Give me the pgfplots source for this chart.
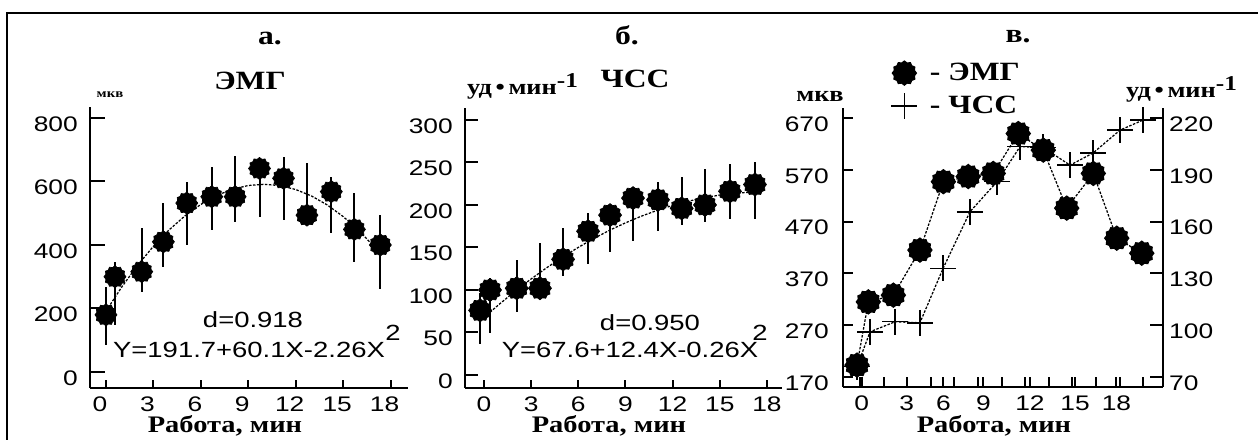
\documentclass[border=0pt]{standalone}
\usepackage{pgfplots}
\pgfplotsset{compat=1.18}
\usepackage{fontspec}
\setmainfont{Liberation Serif}[FakeStretch=1.2]
\newfontfamily\sansf{Liberation Sans}[FakeStretch=1.25]

% jagged filled circle, like the markers of the scan
\newcommand\jp[2]{\pgfpathlineto{\pgfpointpolar{#1}{#2\pgfplotmarksize}}}
\pgfdeclareplotmark{jag}{%
  \pgfpathmoveto{\pgfpointpolar{0}{\pgfplotmarksize}}%
  \jp{15}{.86}\jp{30}{1}\jp{45}{.86}\jp{60}{1}\jp{75}{.86}\jp{90}{1}%
  \jp{105}{.86}\jp{120}{1}\jp{135}{.86}\jp{150}{1}\jp{165}{.86}\jp{180}{1}%
  \jp{195}{.86}\jp{210}{1}\jp{225}{.86}\jp{240}{1}\jp{255}{.86}\jp{270}{1}%
  \jp{285}{.86}\jp{300}{1}\jp{315}{.86}\jp{330}{1}\jp{345}{.86}%
  \pgfpathclose\pgfusepathqfillstroke}

\pgfplotsset{
  panel/.style={
    scale only axis, clip=false, anchor=south west,
    axis x line*=bottom, axis y line*=left,
    axis line style={line width=0.45mm},
    tick align=inside,
    major tick length=3mm,
    every tick/.style={line width=0.4mm, black},
    xtick style={/pgfplots/major tick length=1.6mm},
    ticklabel style={font=\sansf\fontsize{12}{12}\selectfont},
    xticklabel style={yshift=-0.5mm},
    yticklabel style={yshift=-1.2mm, xshift=-1.2mm},
    /pgf/number format/assume math mode=true,
  },
  pts/.style={only marks, mark=jag, mark size=2.2mm,
    mark options={fill=black, draw=black},
    error bars/y dir=both, error bars/y explicit, error bars/error mark=none,
    error bars/error bar style={line width=0.4mm, black}},
  fit/.style={black, line width=0.25mm, dash pattern=on 0.5mm off 0.3mm},
}

\begin{document}
\begin{tikzpicture}[x=0.2mm, y=0.2mm]
\useasboundingbox (0,0) rectangle (1258,439);
\draw[line width=0.3mm] (7,-50) -- (7,426) -- (1300,426);

% ---------- а. ЭМГ ----------
\begin{axis}[panel, at={(18mm,10.2mm)},
  width=63.6mm, height=56.2mm,
  xmin=-1.01, xmax=19.1, ymin=-50.4, ymax=834.6,
  xtick={0,3,...,18}, ytick={0,200,...,800},
  xticklabel style={xshift=-1.2mm}]
\addplot[fit] coordinates {(0,191.7) (1,267.8) (2,335.9) (3,396.0) (4,448.0)
  (5,491.9) (6,527.8) (7,555.7) (8,575.6) (9,587.4) (10,591.2) (11,587.0)
  (12,574.7) (13,554.3) (14,526.0) (15,489.6) (16,445.2) (17,392.7)};
\addplot[pts] coordinates {
  (0,180) += (0,89) -= (0,95)
  (0.57,300) += (0,45) -= (0,152)
  (2.26,316) += (0,137) -= (0,63)
  (3.63,410) += (0,121) -= (0,78)
  (5.11,532) += (0,67) -= (0,132)
  (6.69,552) += (0,95) -= (0,105)
  (8.17,552) += (0,128) -= (0,79)
  (9.71,641) += (0,30) -= (0,154)
  (11.23,610) += (0,68) -= (0,131)
  (12.71,494) += (0,163) -= (0,20)
  (14.25,568) += (0,45) -= (0,130)
  (15.71,449) += (0,114) -= (0,102)
  (17.35,400) += (0,94) -= (0,140)};
\end{axis}

% ---------- б. ЧСС ----------
\begin{axis}[panel, at={(93mm,10.2mm)},
  width=63.4mm, height=56mm,
  xmin=-1.21, xmax=18.96, ymin=-15.3, ymax=314,
  xtick={0,3,...,18}, ytick={0,50,...,300},
  major tick length=2.6mm]
\addplot[fit] coordinates {(0,67.6) (1,83.7) (2,98.8) (3,113.0) (4,126.3)
  (5,138.7) (6,150.1) (7,160.7) (8,170.3) (9,178.9) (10,186.7) (11,193.5)
  (12,199.4) (13,204.4) (14,208.4) (15,211.6) (16,213.8) (17,215.0)};
\addplot[pts, mark size=2.3mm] coordinates {
  (-0.25,76) += (0,20) -= (0,39)
  (0.38,100) += (0,14) -= (0,51)
  (2.08,102) += (0,33) -= (0,28)
  (3.56,102) += (0,53) -= (0,10)
  (5.03,136) += (0,37) -= (0,20)
  (6.62,169) += (0,21) -= (0,38)
  (8.02,188) += (0,10) -= (0,43)
  (9.48,208) += (0,8) -= (0,51)
  (11.07,206) += (0,21) -= (0,37)
  (12.58,196) += (0,37) -= (0,20)
  (14.06,200) += (0,42) -= (0,20)
  (15.65,216) += (0,32) -= (0,33)
  (17.24,224) += (0,27) -= (0,41)};
\end{axis}

% ---------- в. ЭМГ + ЧСС ----------
\begin{axis}[panel, at={(168.6mm,10.4mm)},
  width=64mm, height=55.8mm,
  xmin=-1.08, xmax=19.26, ymin=150.7, ymax=689.3,
  xtick={0,1.5,...,18}, xticklabels={},
  extra x ticks={0.1,2.97,5.3,7.84,10.8,13.67,16.3},
  extra x tick labels={0,3,6,9,12,15,18},
  extra x tick style={major tick length=0pt},
  xtick style={/pgfplots/major tick length=2mm},
  ytick={170,270,...,670}, major tick length=2mm,
  yticklabel style={xshift=-0.4mm},
  legend style={at={(axis description cs:0.15,1.175)}, anchor=north west,
    draw=none, fill=none, inner sep=0pt,
    font=\bfseries\fontsize{15}{15}\selectfont, row sep=1.2mm},
  legend cell align=left,
  legend image code/.code={\draw[#1] plot coordinates {(0.25cm,0cm)};}]
\addplot[fit, mark=jag, mark size=2.4mm, mark options={solid, fill=black}]
  coordinates {(-0.19,193) (0.53,315) (2.12,328) (3.81,415) (5.3,547)
  (6.88,557) (8.47,563) (10.06,640) (11.65,608) (13.14,496) (14.83,563)
  (16.32,438) (17.91,409)};
\addlegendentry{\hspace{1.8mm}- ЭМГ}
\addlegendimage{mark=+, mark size=2.6mm, mark options={line width=0.3mm}}
\addlegendentry{\hspace{1.8mm}- ЧСС}
\end{axis}
\begin{axis}[panel, at={(168.6mm,10.4mm)},
  width=64mm, height=55.8mm,
  axis x line=none, axis y line*=right,
  xmin=-1.08, xmax=19.26, ymin=64.2, ymax=225.8,
  ytick={70,100,...,220}, major tick length=2.6mm,
  yticklabel style={xshift=1.2mm}]
\addplot[fit, mark=+, mark size=2.6mm, mark options={solid, line width=0.3mm}]
  coordinates {(-0.19,76) (0.64,96.2) (2.23,102) (3.81,101.4) (5.28,132.9)
  (6.99,165.7) (8.71,183.1) (10.17,203.4) (11.63,203) (13.35,192.7)
  (14.81,199.7) (16.53,213) (17.99,218.8)};
\end{axis}

% ---------- texts ----------
\begin{scope}[every node/.style={font=\bfseries\fontsize{15}{15}\selectfont, anchor=base}]
\node at (270,394) {а.};
\node at (627,394) {б.};
\node at (1018,396) {в.};
\node at (250,349) {ЭМГ};
\node at (635,351) {ЧСС};
\end{scope}
\begin{scope}[every node/.style={font=\bfseries\fontsize{12.5}{12.5}\selectfont, anchor=base}]
\node at (523,344) {уд\,•\,мин\textsuperscript{\large -1}};
\node at (1182,341) {уд\,•\,мин\textsuperscript{\large -1}};
\node at (820,337) {мкв};
\node[font=\bfseries\fontsize{7}{7}\selectfont] at (110,341) {мкв};
\node[font=\bfseries\fontsize{13.5}{13.5}\selectfont] at (225,7) {Работа, мин};
\node[font=\bfseries\fontsize{13.5}{13.5}\selectfont] at (609,7) {Работа, мин};
\node[font=\bfseries\fontsize{13.5}{13.5}\selectfont] at (994,7) {Работа, мин};
\end{scope}
\begin{scope}[every node/.style={font=\sansf\fontsize{12.5}{12.5}\selectfont}]
\node at (253,119) {d=0.918};
\node at (249,89) {Y=191.7+60.1X-2.26X};
\node at (393,106) {2};
\node at (650,116) {d=0.950};
\node at (630,89) {Y=67.6+12.4X-0.26X};
\node at (760,106) {2};
\end{scope}
\end{tikzpicture}
\end{document}
